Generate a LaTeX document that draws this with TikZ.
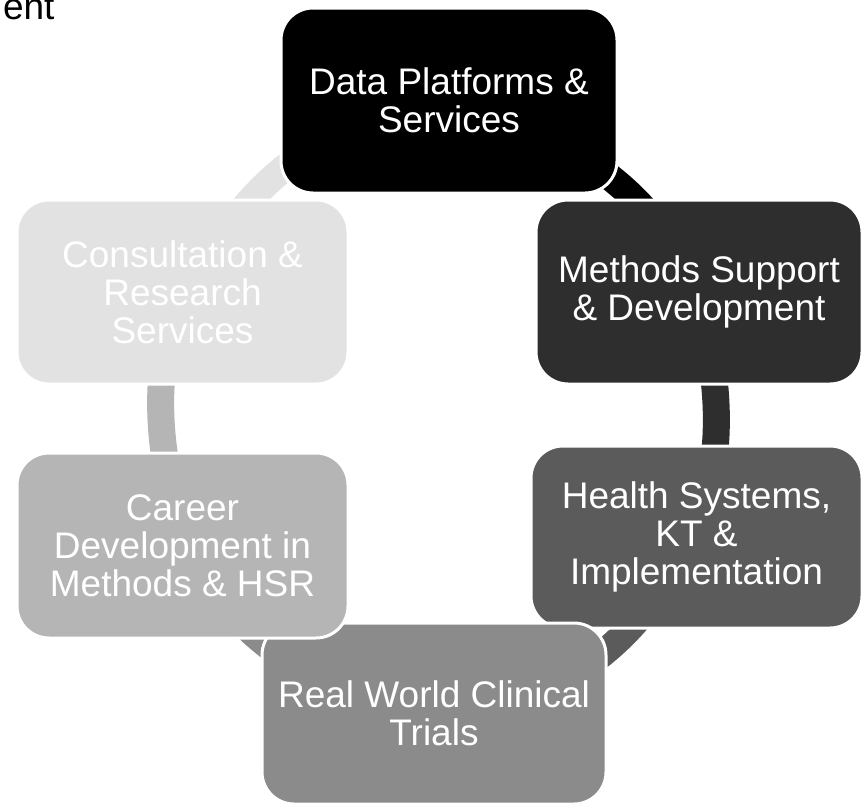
\documentclass[tikz,border=0pt]{standalone}
\usepackage{fontspec}
\setmainfont{Liberation Sans}
\usetikzlibrary{arrows.meta,calc}
\definecolor{cA}{HTML}{000000}
\definecolor{cB}{HTML}{2E2E2E}
\definecolor{cC}{HTML}{5B5B5B}
\definecolor{cD}{HTML}{8B8B8B}
\definecolor{cE}{HTML}{B5B5B5}
\definecolor{cF}{HTML}{E2E2E2}
\begin{document}
\begin{tikzpicture}[x=1pt,y=1pt,
  box/.style={draw=white, line width=3pt, rounded corners=32pt, text=white,
    align=center, inner sep=0pt, font=\fontsize{37}{38}\selectfont},
  band/.style={line width=27pt, -{Triangle[width=54pt,length=30pt]}}]
\useasboundingbox (0,0) rectangle (863,-806);
\clip (0,0) rectangle (863,-806);
\fill[white] (0,0) rectangle (863,-806);
\node[anchor=base east, font=\fontsize{37}{38}\selectfont, text=black] (title) at (58,-19) {ent};
\coordinate (C) at (438.5,-411.5);
\coordinate (Cb) at (446.5,-411.5);
% arc end points on the ellipse
\coordinate (s12) at ($(C)+(80:277 and 295.5)$);
\coordinate (s23) at ($(C)+(15:277 and 295.5)$);
\coordinate (s34) at ($(C)+(-15:277 and 295.5)$);
\coordinate (s45) at ($(C)+(-105:277 and 295.5)$);
\coordinate (s56) at ($(C)+(-165:277 and 295.5)$);
\coordinate (s61) at ($(Cb)+(165:277 and 295.5)$);
\draw[band, cA] (s12) arc[start angle=80, end angle=25, x radius=277, y radius=295.5];
\draw[band, cB] (s23) arc[start angle=15, end angle=-20, x radius=277, y radius=295.5];
\draw[band, cC] (s34) arc[start angle=-15, end angle=-75, x radius=277, y radius=295.5];
\draw[band, cD] (s45) arc[start angle=-105, end angle=-160, x radius=277, y radius=295.5];
\draw[band, cE] (s56) arc[start angle=-165, end angle=-200, x radius=277, y radius=295.5];
\draw[band, cF] (s61) arc[start angle=165, end angle=100, x radius=277, y radius=295.5];
% boxes
\node[box, fill=cA, minimum width=336pt, minimum height=185pt] (b1) at (449,-100.5) {Data Platforms \&\\Services};
\node[box, fill=cB, minimum width=326pt, minimum height=184pt] (b2) at (699,-292) {Methods Support\\\& Development};
\node[box, fill=cC, minimum width=331pt, minimum height=182pt] (b3) at (696.5,-537) {Health Systems,\\KT \&\\Implementation};
\node[box, fill=cD, minimum width=344pt, minimum height=181pt] (b4) at (434,-713.5) {Real World Clinical\\Trials};
\node[box, fill=cE, minimum width=331pt, minimum height=185pt] (b5) at (182.5,-545.5) {Career\\Development in\\Methods \& HSR};
\node[box, fill=cF, minimum width=331pt, minimum height=184pt] (b6) at (182.5,-292) {Consultation \&\\Research\\Services};
\end{tikzpicture}
\end{document}
